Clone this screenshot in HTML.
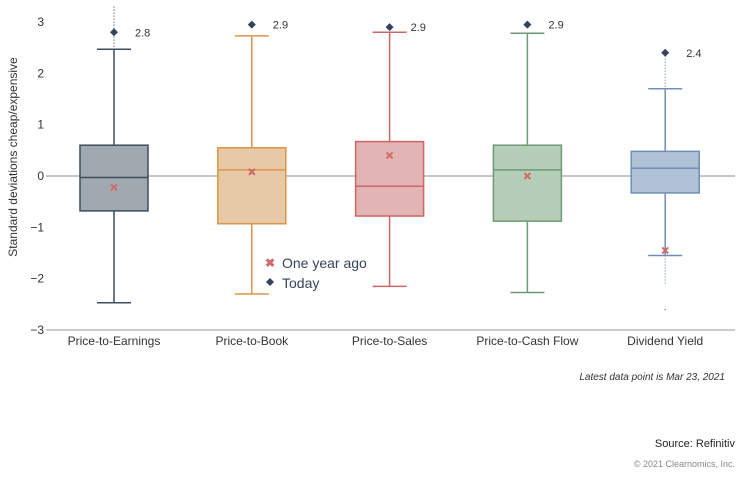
<!DOCTYPE html>
<html><head><meta charset="utf-8"><style>
body{margin:0;background:#fff;font-family:"Liberation Sans",sans-serif;}
svg text{font-family:"Liberation Sans",sans-serif;}
</style></head><body>
<svg id="chart" width="743" height="474" viewBox="0 0 743 474" xmlns="http://www.w3.org/2000/svg">
<g id="grid"></g>
<g id="boxes"></g>
<text transform="translate(17,157) rotate(-90)" text-anchor="middle" font-size="12" fill="#333">Standard deviations cheap/expensive</text>
<g>
<text x="270" y="267" font-size="12" fill="#d06a6a" text-anchor="middle" font-weight="bold">✖</text>
<text x="282" y="268" font-size="14" fill="#34435c">One year ago</text>
<path d="M270,278 L274,282 L270,286 L266,282Z" fill="#34435c"/>
<text x="282" y="288" font-size="14" fill="#34435c">Today</text>
</g>
<text x="725" y="380" text-anchor="end" font-size="10" font-style="italic" fill="#333">Latest data point is Mar 23, 2021</text>
<text x="735" y="447" text-anchor="end" font-size="11" fill="#222">Source: Refinitiv</text>
<text x="735" y="467" text-anchor="end" font-size="9" fill="#888">© 2021 Clearnomics, Inc.</text>
</svg>
<script>
const categories=["Price-to-Earnings","Price-to-Book","Price-to-Sales","Price-to-Cash Flow","Dividend Yield"];
const whiskerHigh=[2.47,2.73,2.8,2.78,1.7];
const q3=[0.6,0.55,0.67,0.6,0.48];
const median=[-0.03,0.12,-0.2,0.12,0.15];
const q1=[-0.68,-0.93,-0.78,-0.88,-0.33];
const whiskerLow=[-2.47,-2.3,-2.15,-2.27,-1.55];
const today=[2.8,2.95,2.9,2.95,2.4];
const todayLabels=["2.8","2.9","2.9","2.9","2.4"];
const oneYearAgo=[-0.22,0.08,0.4,0,-1.45];
const outlierHigh=[3.3,null,null,null,2.4];
const outlierLow=[null,null,null,null,-2.1];
const extremeLow=[null,null,null,null,-2.6];
const yTicks=[3,2,1,0,-1,-2,-3];
const strokes=["#3f4d5e","#d9954a","#cc6666","#6e9a75","#6f8fb3"];
const fills=["#a0a8b0","#e8c9a6","#e2b4b4","#b6cdb9","#b0c2d5"];

const NS="http://www.w3.org/2000/svg";
const yScale=v=>176-v*51.33;
const xScale=i=>114+i*137.8;
function mk(parent,tag,attrs){const e=document.createElementNS(NS,tag);for(const k in attrs)e.setAttribute(k,attrs[k]);parent.appendChild(e);return e;}
const grid=document.getElementById('grid');
const boxes=document.getElementById('boxes');
yTicks.forEach(t=>{
  const tx=mk(grid,'text',{x:44,y:yScale(t)+4,'text-anchor':'end','font-size':12,fill:'#333'});
  tx.textContent=t<0?'−'+(-t):String(t);
  
  
});
const zl=mk(grid,'line',{x1:46,x2:735,y1:yScale(0),y2:yScale(0),stroke:'#8a8f96','stroke-width':1});


const xa=mk(grid,'line',{x1:46,x2:735,y1:yScale(-3),y2:yScale(-3),stroke:'#999','stroke-width':1});


categories.forEach((c,i)=>{
  const x=xScale(i),s=strokes[i],hw=34,cw=17;
  const g=mk(boxes,'g',{});
  
  
  if(outlierHigh[i]!=null){const l=mk(g,'line',{x1:x,x2:x,y1:yScale(outlierHigh[i]),y2:yScale(whiskerHigh[i]),stroke:s,'stroke-dasharray':'1 2','stroke-width':1.2});
    }
  if(outlierLow[i]!=null){const l=mk(g,'line',{x1:x,x2:x,y1:yScale(whiskerLow[i]),y2:yScale(outlierLow[i]),stroke:s,'stroke-dasharray':'1 2','stroke-width':1.2});
    }
  if(extremeLow[i]!=null){const r=mk(g,'rect',{x:x-0.7,y:yScale(extremeLow[i])-0.7,width:1.4,height:1.4,fill:s});
    }
  const w=mk(g,'path',{d:`M${x},${yScale(whiskerHigh[i])}V${yScale(q3[i])}M${x},${yScale(q1[i])}V${yScale(whiskerLow[i])}M${x-cw},${yScale(whiskerHigh[i])}H${x+cw}M${x-cw},${yScale(whiskerLow[i])}H${x+cw}`,stroke:s,'stroke-width':1.5,fill:'none'});
  
  const b=mk(g,'rect',{x:x-hw,y:yScale(q3[i]),width:2*hw,height:yScale(q1[i])-yScale(q3[i]),fill:fills[i],stroke:s,'stroke-width':1.5});
  
  const m=mk(g,'line',{x1:x-hw,x2:x+hw,y1:yScale(median[i]),y2:yScale(median[i]),stroke:s,'stroke-width':1.5});
  
  const oy=yScale(oneYearAgo[i]);
  const o=mk(g,'path',{d:`M${x-3},${oy-3}L${x+3},${oy+3}M${x+3},${oy-3}L${x-3},${oy+3}`,stroke:'#d06a6a','stroke-width':2});
  
  const ty=yScale(today[i]);
  const d=mk(g,'path',{d:`M${x},${ty-4}L${x+4},${ty}L${x},${ty+4}L${x-4},${ty}Z`,fill:'#34435c'});
  
  const tl=mk(g,'text',{x:x+21,y:ty+4,'font-size':11,fill:'#333'});tl.textContent=todayLabels[i];
  
  const xl=mk(g,'text',{x:x,y:345,'text-anchor':'middle','font-size':12,fill:'#333'});xl.textContent=c;
  
});
</script>
</body></html>
